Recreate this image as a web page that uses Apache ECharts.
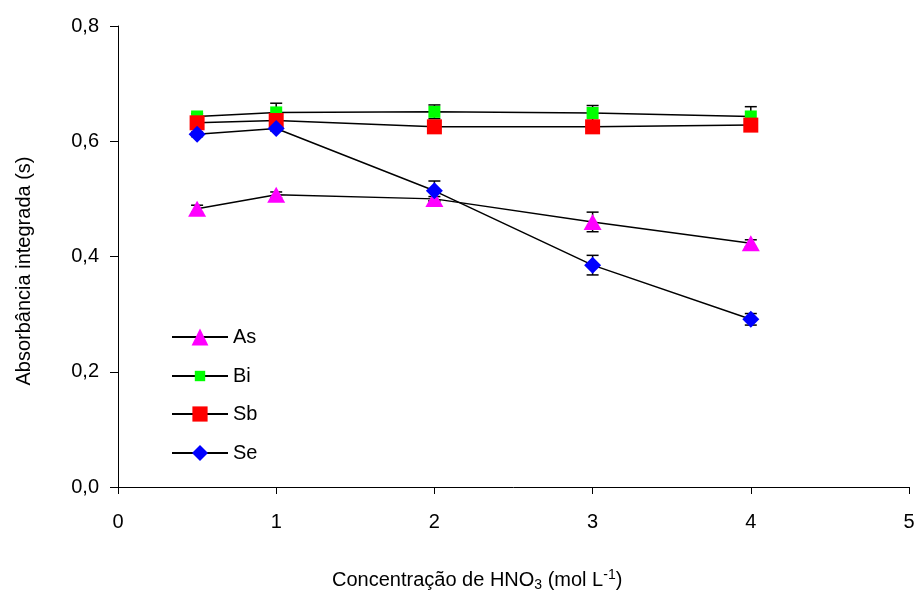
<!DOCTYPE html>
<html><head><meta charset="utf-8">
<script src="https://cdn.jsdelivr.net/npm/echarts@6/dist/echarts.min.js"></script>
<style>html,body{margin:0;padding:0;background:#fff}#c{width:921px;height:594px}</style>
</head><body><div id="c"></div>
<script>
const xValues = [0.5, 1, 2, 3, 4];
const asValues = [0.483, 0.507, 0.500, 0.460, 0.423];
const asErrors = [0.006, 0.005, 0.004, 0.017, 0.006];
const biValues = [0.643, 0.650, 0.651, 0.649, 0.643];
const biErrors = [0.005, 0.016, 0.012, 0.013, 0.017];
const sbValues = [0.632, 0.636, 0.625, 0.625, 0.628];
const sbErrors = [0.004, 0.004, 0.004, 0.004, 0.004];
const seValues = [0.612, 0.622, 0.514, 0.385, 0.291];
const seErrors = [0.004, 0.004, 0.017, 0.017, 0.010];
const seriesNames = ['As', 'Bi', 'Sb', 'Se'];
const yTicks = ['0,0', '0,2', '0,4', '0,6', '0,8'];

const font = 'Liberation Sans, Arial, sans-serif';
const FS = 20;
const chart = echarts.init(document.getElementById('c'), null, {renderer: 'canvas'});

function pts(vals) { return xValues.map((x, i) => [x, vals[i]]); }
function errSeries(vals, errs) {
  return {
    type: 'custom', silent: true, z: 1,
    data: xValues.map((x, i) => [x, vals[i] - errs[i], vals[i] + errs[i]]),
    renderItem: function (params, api) {
      const lo = api.coord([api.value(0), api.value(1)]);
      const hi = api.coord([api.value(0), api.value(2)]);
      const w = 6;
      const st = {stroke: '#000', lineWidth: 1.5};
      return {type: 'group', children: [
        {type: 'line', shape: {x1: lo[0], y1: lo[1], x2: hi[0], y2: hi[1]}, style: st},
        {type: 'line', shape: {x1: hi[0] - w, y1: hi[1], x2: hi[0] + w, y2: hi[1]}, style: st},
        {type: 'line', shape: {x1: lo[0] - w, y1: lo[1], x2: lo[0] + w, y2: lo[1]}, style: st}
      ]};
    }
  };
}
function lineSeries(name, vals, symbol, size, color, z) {
  return {
    name: name, type: 'line', data: pts(vals), z: z,
    symbol: symbol, symbolSize: size, showSymbol: true,
    lineStyle: {color: '#000', width: 1.5},
    itemStyle: {color: color, borderWidth: 0},
    emphasis: {disabled: true}, animation: false
  };
}
const legendCenters = [337, 376, 414, 453];
const legendIconH = [21, 13, 19, 20];
function legendFor(i) {
  return {
    orient: 'vertical', left: 171, top: legendCenters[i] - 12, padding: 0,
    itemWidth: 56, itemHeight: legendIconH[i],
    data: [seriesNames[i]], selectedMode: false,
    textStyle: {fontFamily: font, fontSize: FS, color: '#000', lineHeight: 24}
  };
}

chart.setOption({
  animation: false,
  backgroundColor: '#fff',
  grid: {left: 118, right: 12, top: 26, bottom: 107},
  title: {
    text: '{n|Concentração de HNO}{sub|3}{n| (mol L}{sup|-1}{n|)}',
    left: 332, top: 568, padding: 0,
    textStyle: {
      rich: {
        n: {fontFamily: font, fontSize: FS, color: '#000', fontWeight: 'normal'},
        sub: {fontFamily: font, fontSize: 14, color: '#000', fontWeight: 'normal', padding: [10, 0, 0, 0]},
        sup: {fontFamily: font, fontSize: 14, color: '#000', fontWeight: 'normal', padding: [0, 0, 10, 0]}
      }
    }
  },
  legend: [legendFor(0), legendFor(1), legendFor(2), legendFor(3)],
  xAxis: {
    type: 'value', min: 0, max: 5, interval: 1,
    axisLine: {show: true, lineStyle: {color: '#000', width: 1}},
    axisTick: {show: true, length: 7, lineStyle: {color: '#000'}},
    axisLabel: {fontFamily: font, fontSize: FS, color: '#000', margin: 25},
    splitLine: {show: false}
  },
  yAxis: {
    type: 'value', min: 0, max: 0.8, interval: 0.2,
    name: 'Absorbância integrada (s)', nameLocation: 'middle', nameGap: 84,
    nameTextStyle: {fontFamily: font, fontSize: FS, color: '#000', padding: [0, 29, 0, 0]},
    axisLine: {show: true, lineStyle: {color: '#000', width: 1}},
    axisTick: {show: true, length: 8, lineStyle: {color: '#000'}},
    axisLabel: {fontFamily: font, fontSize: FS, color: '#000', margin: 19,
      formatter: function (v) { return yTicks[Math.round(v / 0.2)]; }},
    splitLine: {show: false}
  },
  series: [
    errSeries(asValues, asErrors),
    errSeries(biValues, biErrors),
    errSeries(sbValues, sbErrors),
    errSeries(seValues, seErrors),
    lineSeries('As', asValues, 'triangle', [18, 16], '#ff00ff', 2),
    lineSeries('Bi', biValues, 'rect', 12, '#00ff00', 3),
    lineSeries('Sb', sbValues, 'rect', 15, '#ff0000', 4),
    lineSeries('Se', seValues, 'diamond', [17, 17], '#0000ff', 5)
  ]
});
</script></body></html>
